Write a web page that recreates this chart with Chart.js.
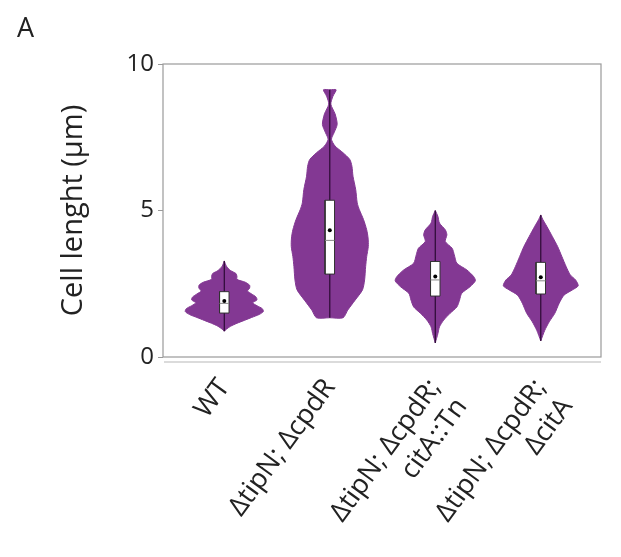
<!DOCTYPE html>
<html>
<head>
<meta charset="utf-8">
<script src="https://cdn.jsdelivr.net/npm/chart.js@4"></script>
<style>
  html, body { margin: 0; padding: 0; background: #fff; }
  #wrap { position: relative; width: 621px; height: 557px; }
  #panel { position: absolute; left: 17px; top: 8px; font: 27px "Open Sans", sans-serif; color: #222; }
</style>
</head>
<body>
<div id="wrap">
  <div id="panel">A</div>
  <canvas id="chart" width="621" height="557"></canvas>
</div>
<script>
/* ===== data ===== */
var groupLabels = [
    ["WT"],
    ["\u0394tipN; \u0394cpdR"],
    ["\u0394tipN; \u0394cpdR;", "citA::Tn"],
    ["\u0394tipN; \u0394cpdR;", "\u0394citA"]
];

// violin outlines: cell length (um) and density half-width (x units), top to bottom
var wtLen  = [3.28, 3.1, 2.95, 2.85, 2.75, 2.65, 2.55, 2.45, 2.35, 2.25, 2.15, 2.05, 1.95, 1.85, 1.75, 1.65, 1.55, 1.45, 1.35, 1.25, 1.15, 1.05, 0.95, 0.88];
var wtHalf = [0, 0.02, 0.06, 0.11, 0.12, 0.12, 0.2, 0.24, 0.24, 0.22, 0.26, 0.3, 0.31, 0.27, 0.31, 0.36, 0.37, 0.33, 0.26, 0.19, 0.12, 0.06, 0.02, 0];

var dcLen  = [9.12, 9.12, 8.9, 8.63, 8.3, 7.94, 7.65, 7.43, 7.2, 6.97, 6.74, 6.51, 6.17, 5.71, 5.26, 5.03, 4.69, 4.34, 4.06, 3.77, 3.43, 3.09, 2.63, 2.29, 1.94, 1.6, 1.34, 1.34];
var dcHalf = [0, 0.06, 0.03, 0.01, 0.05, 0.07, 0.04, 0.016, 0.05, 0.126, 0.19, 0.21, 0.22, 0.246, 0.26, 0.28, 0.32, 0.35, 0.363, 0.365, 0.35, 0.34, 0.33, 0.31, 0.24, 0.17, 0.126, 0];

var ctLen  = [5.0, 4.8, 4.57, 4.34, 4.17, 3.94, 3.71, 3.49, 3.2, 2.97, 2.74, 2.6, 2.4, 2.17, 1.94, 1.71, 1.49, 1.26, 1.03, 0.8, 0.48];
var ctHalf = [0, 0.025, 0.04, 0.095, 0.11, 0.095, 0.16, 0.18, 0.205, 0.3, 0.365, 0.38, 0.33, 0.25, 0.23, 0.205, 0.14, 0.08, 0.04, 0.025, 0];

var caLen  = [4.85, 4.69, 4.46, 4.11, 3.77, 3.43, 3.09, 2.8, 2.63, 2.43, 2.29, 2.11, 1.83, 1.49, 1.2, 0.91, 0.55];
var caHalf = [0, 0.02, 0.057, 0.11, 0.16, 0.2, 0.24, 0.28, 0.33, 0.355, 0.3, 0.22, 0.174, 0.133, 0.08, 0.038, 0];

// box statistics per group
var boxMin    = [0.88, 1.34, 0.48, 0.55];
var boxQ1     = [1.50, 2.83, 2.08, 2.15];
var boxMedian = [1.83, 3.98, 2.63, 2.60];
var boxQ3     = [2.23, 5.35, 3.26, 3.23];
var boxMax    = [3.28, 9.12, 5.00, 4.85];
var boxMean   = [1.91, 4.33, 2.75, 2.72];

var yTicks = [0, 5, 10];

/* ===== build datasets ===== */
var violinColor = "#833893";
var boxHalf = 0.045;
var outlines = [[wtLen, wtHalf], [dcLen, dcHalf], [ctLen, ctHalf], [caLen, caHalf]];
var datasets = [];

function violinPoints(center, len, half) {
    var pts = [];
    for (var i = 0; i < len.length; i++) pts.push({ x: center + half[i], y: len[i] });
    for (var j = len.length - 1; j >= 0; j--) pts.push({ x: center - half[j], y: len[j] });
    return pts;
}

for (var g = 0; g < outlines.length; g++) {
    var c = g + 1;
    datasets.push({
        data: violinPoints(c, outlines[g][0], outlines[g][1]),
        showLine: true, fill: "shape", tension: 0.25,
        backgroundColor: violinColor, borderColor: violinColor, borderWidth: 1,
        pointRadius: 0, order: 5
    });
    datasets.push({
        data: [{ x: c, y: boxMin[g] }, { x: c, y: boxMax[g] }],
        showLine: true, borderColor: "#2a0a33", borderWidth: 1.2,
        pointRadius: 0, order: 4
    });
    datasets.push({
        data: [
            { x: c - boxHalf, y: boxQ1[g] }, { x: c + boxHalf, y: boxQ1[g] },
            { x: c + boxHalf, y: boxQ3[g] }, { x: c - boxHalf, y: boxQ3[g] },
            { x: c - boxHalf, y: boxQ1[g] }
        ],
        showLine: true, fill: "shape", backgroundColor: "#ffffff",
        borderColor: "#333", borderWidth: 1, pointRadius: 0, order: 3
    });
    datasets.push({
        data: [{ x: c - boxHalf, y: boxMedian[g] }, { x: c + boxHalf, y: boxMedian[g] }],
        showLine: true, borderColor: "#888", borderWidth: 1, pointRadius: 0, order: 2
    });
    datasets.push({
        data: [{ x: c, y: boxMean[g] }],
        pointRadius: 2, pointBackgroundColor: "#000", pointBorderWidth: 0, order: 1
    });
}

/* --- plot frame and the double bottom rule --- */
var framePlugin = {
    id: "frame",
    afterDraw: function (chart) {
        var a = chart.chartArea, ctx = chart.ctx;
        ctx.save();
        ctx.strokeStyle = "#9a9a9a";
        ctx.lineWidth = 1.2;
        ctx.strokeRect(a.left, a.top, a.right - a.left, a.bottom - a.top);
        ctx.strokeStyle = "#cfcfcf";
        ctx.lineWidth = 1.5;
        ctx.beginPath();
        ctx.moveTo(a.left + 1, a.bottom + 5);
        ctx.lineTo(a.right, a.bottom + 5);
        ctx.stroke();
        ctx.restore();
    }
};

new Chart(document.getElementById("chart"), {
    type: "scatter",
    data: { datasets: datasets },
    plugins: [framePlugin],
    options: {
        responsive: false,
        animation: false,
        layout: { padding: { left: 56, top: 64, right: 20, bottom: 0 } },
        plugins: { legend: { display: false }, tooltip: { enabled: false } },
        scales: {
            x: {
                type: "linear", min: 0.419, max: 4.571,
                afterBuildTicks: function (scale) {
                    scale.ticks = groupLabels.map(function (l, i) { return { value: i + 1 }; });
                },
                afterFit: function (scale) { scale.height = 200; },
                grid: { display: false },
                border: { display: false },
                ticks: {
                    minRotation: 54, maxRotation: 54, padding: 8,
                    color: "#222",
                    font: { family: "'Open Sans', sans-serif", size: 27 },
                    callback: function (v) { return groupLabels[Math.round(v) - 1]; }
                }
            },
            y: {
                min: 0, max: 10,
                afterBuildTicks: function (scale) {
                    scale.ticks = yTicks.map(function (v) { return { value: v }; });
                },
                afterFit: function (scale) { scale.width = 107; },
                grid: { drawOnChartArea: false, drawTicks: true, tickLength: 5, color: "#9a9a9a" },
                border: { display: false },
                ticks: { color: "#222", padding: 4, font: { family: "'Open Sans', sans-serif", size: 24 } },
                title: {
                    display: true, text: "Cell lenght (\u00b5m)", color: "#222",
                    font: { family: "'Open Sans', sans-serif", size: 29 },
                    padding: { top: 0, bottom: 4 }
                }
            }
        }
    }
});
</script>
</body>
</html>
